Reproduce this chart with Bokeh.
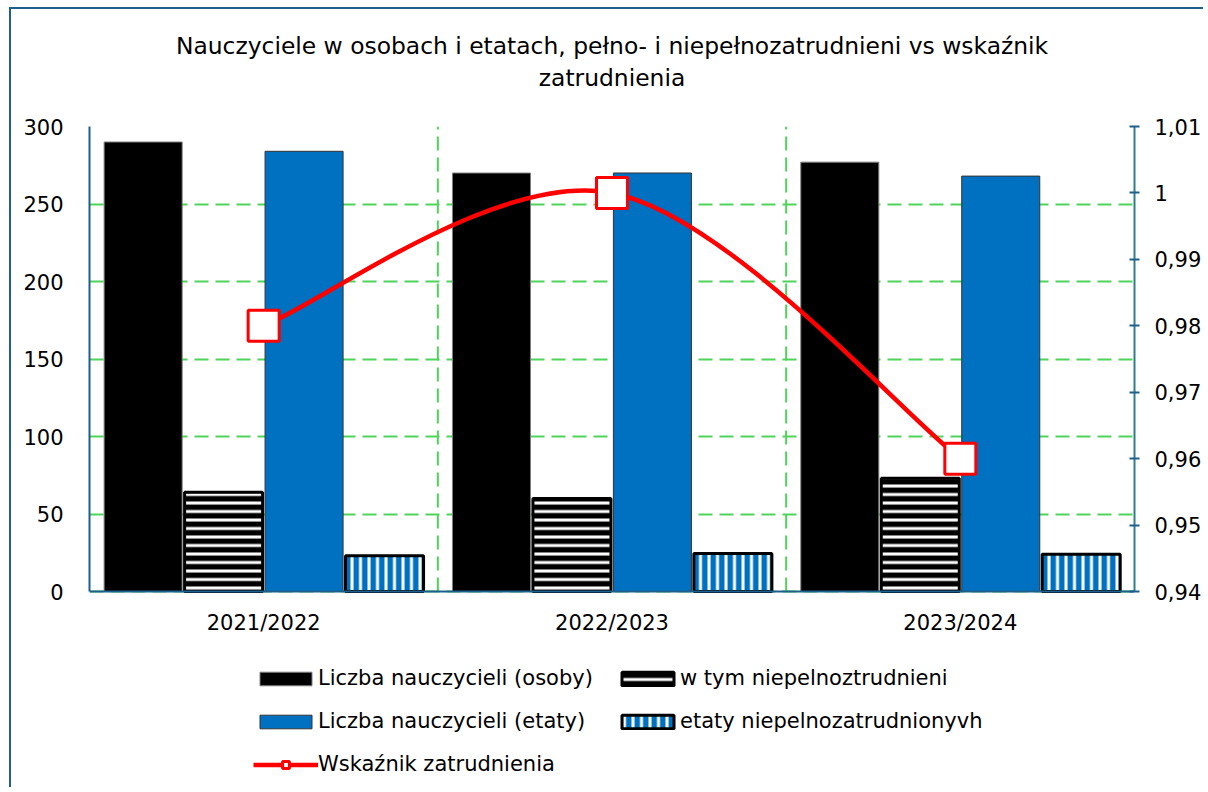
from bokeh.plotting import figure
from bokeh.models import (ColumnDataSource, Range1d, LinearAxis, FixedTicker,
                          CustomJSTickFormatter, Legend, LegendItem, Title, Span)
from bokeh.core.properties import value
from bokeh.transform import dodge
from bokeh.embed import file_html
from bokeh.resources import INLINE

# ---- data ----
categories = ["2021/2022", "2022/2023", "2023/2024"]
osoby = [290, 270, 277]
niepelno_osoby = [64, 60, 73]
etaty = [284, 270, 268]
etaty_niepelno = [23, 24.5, 24]
wskaznik = [0.98, 1.0, 0.96]
left_ticks = [0, 50, 100, 150, 200, 250, 300]
right_ticks = [0.94, 0.95, 0.96, 0.97, 0.98, 0.99, 1.00, 1.01]

FONT = "DejaVu Sans"
GRID = "#4FD35A"
AXIS = "#1F5F8B"
BLUE = "#0070C0"

# layout: the frame extends below the value axis to hold the legend
Y0, Y1 = 0, 300
R0, R1 = 0.94, 1.01
PLOT_PX = 465.0          # pixel height of the 0..300 part
EXTRA_PX = 194.0         # pixel height reserved below zero (labels + legend)
ymin = Y0 - (Y1 - Y0) * EXTRA_PX / PLOT_PX
rmin = R0 - (R1 - R0) * EXTRA_PX / PLOT_PX

n = len(categories)
xs = [i + 0.5 for i in range(n)]
src = ColumnDataSource(dict(x=xs, osoby=osoby, np_os=niepelno_osoby,
                            etaty=etaty, np_et=etaty_niepelno, w=wskaznik))

p = figure(width=1194, height=780, x_range=Range1d(0, n), y_range=Range1d(ymin, Y1),
           output_backend="svg", toolbar_location=None, x_axis_location=None,
           min_border_left=78, min_border_right=71, min_border_top=117,
           min_border_bottom=4)
p.styles = {"border-left": "2px solid #1F5F8B", "border-top": "2px solid #1F5F8B",
            "margin-left": "9px", "margin-top": "7px"}
p.outline_line_color = None
p.extra_y_ranges = {"idx": Range1d(rmin, R1)}

# horizontal grid
p.ygrid.ticker = FixedTicker(ticks=left_ticks)
p.ygrid.grid_line_color = GRID
p.ygrid.grid_line_dash = "14 7"
p.ygrid.grid_line_width = 2
p.xgrid.visible = False

# vertical grid lines between categories
bounds = [i for i in range(1, n)]
p.segment(x0=bounds, x1=bounds, y0=[Y0] * len(bounds), y1=[Y1] * len(bounds),
          line_color=GRID, line_dash="14 7", line_width=2)

# left axis
ya = p.yaxis[0]
ya.ticker = FixedTicker(ticks=left_ticks)
ya.bounds = (Y0, Y1)
ya.axis_line_color = AXIS
ya.axis_line_width = 2
ya.major_tick_line_color = None
ya.minor_tick_line_color = None
ya.major_label_text_font = FONT
ya.major_label_text_font_size = "21px"
ya.major_label_text_color = "black"
ya.major_label_standoff = 20

# right axis
ra = LinearAxis(y_range_name="idx", ticker=FixedTicker(ticks=right_ticks), bounds=(R0, R1))
ra.formatter = CustomJSTickFormatter(code="""
    let s = tick.toFixed(2);
    s = s.replace(/0+$/, '').replace(/\\.$/, '');
    return s.replace('.', ',');
""")
ra.axis_line_color = "#2E7F8C"
ra.axis_line_width = 2
ra.major_tick_line_color = AXIS
ra.major_tick_line_width = 2
ra.major_tick_in = 5
ra.major_tick_out = 5
ra.minor_tick_line_color = None
ra.major_label_text_font = FONT
ra.major_label_text_font_size = "21px"
ra.major_label_text_color = "black"
ra.major_label_standoff = 15
p.add_layout(ra, "right")

# bars
W = 0.224
r1 = p.vbar(x=dodge("x", -0.346), top="osoby", width=W, source=src,
            fill_color="black", line_color="#7f7f7f", line_width=1)
r2 = p.vbar(x=dodge("x", -0.115), top="np_os", width=W, source=src,
            fill_color="white", line_color="black", line_width=3,
            hatch_pattern="horizontal_line", hatch_color="black",
            hatch_scale=8.5, hatch_weight=5.5)
r3 = p.vbar(x=dodge("x", 0.116), top="etaty", width=W, source=src,
            fill_color=BLUE, line_color="#333333", line_width=1)
r4 = p.vbar(x=dodge("x", 0.347), top="np_et", width=W, source=src,
            fill_color="white", line_color="black", line_width=3,
            hatch_pattern="vertical_line", hatch_color=BLUE,
            hatch_scale=8.5, hatch_weight=5.5)

# category axis line and labels
p.add_layout(Span(location=Y0, dimension="width", line_color=AXIS, line_width=2))
LABEL_OFFSET_PX = 31.0
p.text(x=xs, y=[Y0 - (Y1 - Y0) * LABEL_OFFSET_PX / PLOT_PX] * n, text=categories,
       text_font=value(FONT), text_font_size="21px", text_color="black",
       text_align="center", text_baseline="middle")

# smoothed line (Bezier segments with control points derived from the data)
pts = list(zip(xs, wskaznik))
bz = dict(x0=[], y0=[], x1=[], y1=[], cx0=[], cy0=[], cx1=[], cy1=[])
for i in range(n - 1):
    p0, p1 = pts[i], pts[i + 1]
    pm = pts[i - 1] if i > 0 else p0
    pp = pts[i + 2] if i + 2 < n else p1
    bz["x0"].append(p0[0]); bz["y0"].append(p0[1])
    bz["x1"].append(p1[0]); bz["y1"].append(p1[1])
    bz["cx0"].append(p0[0] + (p1[0] - pm[0]) / 6)
    bz["cy0"].append(p0[1] + (p1[1] - pm[1]) / 6)
    bz["cx1"].append(p1[0] - (pp[0] - p0[0]) / 6)
    bz["cy1"].append(p1[1] - (pp[1] - p0[1]) / 6)
rl = p.bezier(x0="x0", y0="y0", x1="x1", y1="y1", cx0="cx0", cy0="cy0",
              cx1="cx1", cy1="cy1", source=ColumnDataSource(bz),
              line_color="#FF0000", line_width=4.5, y_range_name="idx")
rm = p.scatter(x="x", y="w", source=src, marker="square", size=31,
               fill_color="white", line_color="#FF0000", line_width=3,
               y_range_name="idx")

# column-major fill: col1 = osoby, etaty, wskaznik ; col2 = w tym, etaty niepelno
legend = Legend(items=[
    LegendItem(label="Liczba nauczycieli (osoby)", renderers=[r1]),
    LegendItem(label="Liczba nauczycieli (etaty)", renderers=[r3]),
    LegendItem(label="Wskaźnik zatrudnienia", renderers=[rl, rm]),
    LegendItem(label="w tym niepelnoztrudnieni", renderers=[r2]),
    LegendItem(label="etaty niepelnozatrudnionyvh", renderers=[r4]),
], nrows=3, location=(164, 9))
legend.border_line_color = None
legend.background_fill_alpha = 0
legend.glyph_width = 65
legend.glyph_height = 17
legend.label_standoff = 0
legend.spacing = 19
legend.label_width = 278
legend.padding = 0
legend.margin = 0
legend.label_text_font = FONT
legend.label_text_font_size = "21px"
legend.label_text_color = "black"
p.add_layout(legend, "center")

# titles (stacked outward from the frame: spacer, second line, first line)
spacer = Title(text=" ", align="center", text_font=FONT, text_font_size="23.4px",
               standoff=3.5)
t2 = Title(text="zatrudnienia", align="center", text_font=FONT,
           text_font_size="23.4px", text_font_style="normal", text_color="black",
           standoff=2)
t1 = Title(text="Nauczyciele w osobach i etatach, pełno- i niepełnozatrudnieni vs wskaźnik",
           align="center", text_font=FONT, text_font_size="23.4px",
           text_font_style="normal", text_color="black", standoff=2)
p.add_layout(spacer, "above")
p.add_layout(t2, "above")
p.add_layout(t1, "above")

open("out.html", "w").write(file_html(p, INLINE))
